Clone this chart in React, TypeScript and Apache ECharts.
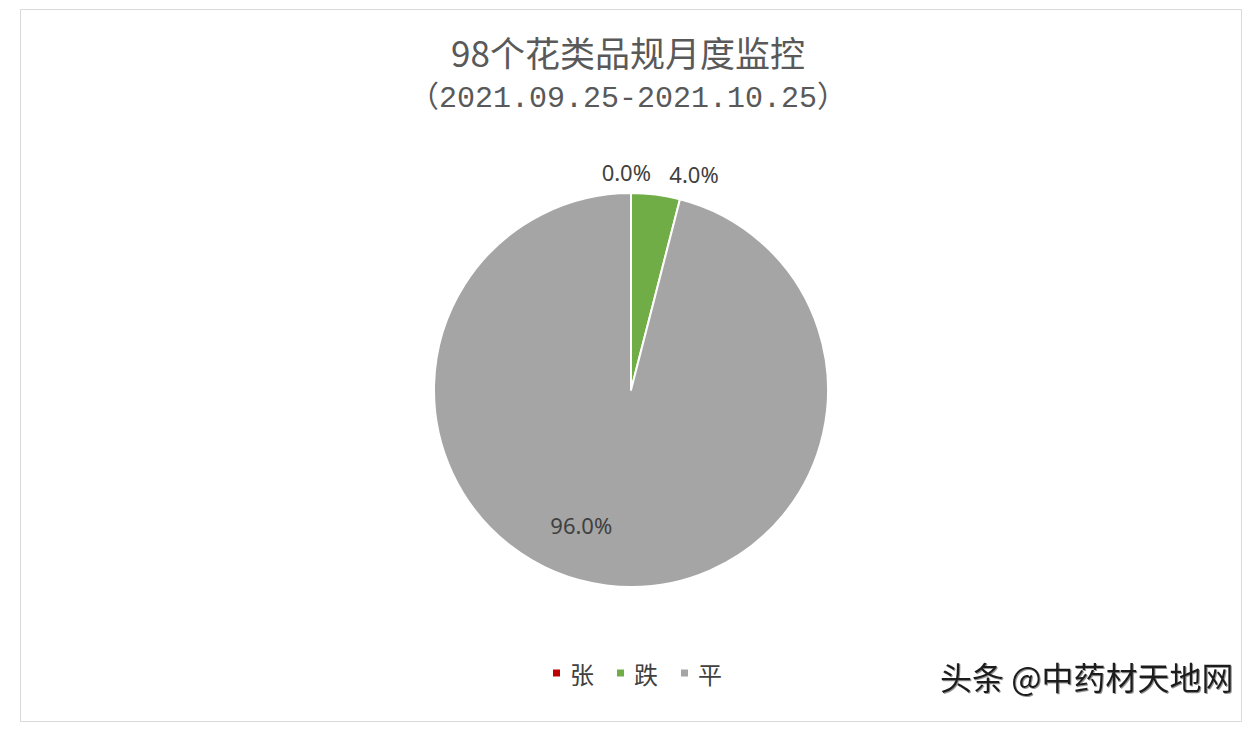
import React, { useEffect, useRef } from "react";
import * as echarts from "echarts";

const categories = ["张", "跌", "平"];
const values = [0, 4.0, 96.0];
const colors = ["#c00000", "#70ad47", "#a5a5a5"];
const titleLine1 = "98个花类品规月度监控";
const titleLine2 = "（2021.09.25-2021.10.25）";
const watermark = "头条 @中药材天地网";

export default function App() {
  const ref = useRef<HTMLDivElement>(null);
  useEffect(() => {
    if (!ref.current) return;
    const chart = echarts.init(ref.current, null, { renderer: "svg" });
    const labelOffsets: any[] = [[25, 0], [6, 0], [-37, 34]];
    const data = categories.map((name, i) => {
      const item: any = {
        name,
        value: values[i],
        itemStyle: { color: colors[i] },
        label: { offset: labelOffsets[i] },
      };
      if (i === 2) item.label.position = "inside";
      return item;
    });
    chart.setOption({
      animation: false,
      backgroundColor: "#ffffff",
      title: {
        text: "{a|" + titleLine1 + "}\n{b|" + titleLine2 + "}",
        left: "center",
        top: 22,
        textStyle: {
          fontWeight: "normal",
          rich: {
            a: {
              fontFamily: "Noto Sans CJK SC",
              fontSize: 35,
              fontWeight: "normal",
              color: "#595959",
              lineHeight: 48,
              align: "center",
            },
            b: {
              fontFamily: "Liberation Mono, Noto Sans CJK SC",
              fontSize: 30,
              fontWeight: "normal",
              color: "#595959",
              lineHeight: 48,
              align: "center",
            },
          },
        },
      },
      legend: {
        bottom: 42,
        left: 546,
        itemWidth: 9,
        itemHeight: 9,
        itemGap: 21,
        icon: "rect",
        textStyle: {
          fontFamily: "Noto Sans CJK SC",
          fontSize: 24,
          color: "#404040",
          padding: [0, 0, 0, 4],
        },
        data: categories,
      },
      graphic: [
        {
          type: "rect",
          shape: { x: 20.5, y: 9.5, width: 1221, height: 712 },
          style: { fill: "none", stroke: "#d9d9d9", lineWidth: 1 },
          silent: true,
        },
        {
          type: "text",
          left: 940,
          top: 660,
          style: {
            text: watermark,
            fontFamily: "Noto Sans CJK SC",
            fontSize: 32,
            fill: "#1a1a1a",
            textShadowColor: "rgba(120,120,120,0.8)",
            textShadowBlur: 1,
            textShadowOffsetX: 1,
            textShadowOffsetY: 1,
          },
        },
      ],
      series: [
        {
          type: "pie",
          center: [631, 390],
          radius: 197,
          startAngle: 90,
          clockwise: true,
          avoidLabelOverlap: false,
          itemStyle: { borderColor: "#ffffff", borderWidth: 2 },
          label: {
            show: true,
            position: "outside",
            fontFamily: "Noto Sans",
            fontSize: 22,
            color: "#404040",
            formatter: (p: any) => Number(p.value).toFixed(1) + "%",
          },
          labelLine: { show: false, length: 21, length2: 0 },
          data,
        },
      ],
    });
    return () => chart.dispose();
  }, []);
  return (
    <div
      ref={ref}
      style={{ position: "absolute", left: 0, top: 0, width: 1256, height: 732 }}
    />
  );
}
